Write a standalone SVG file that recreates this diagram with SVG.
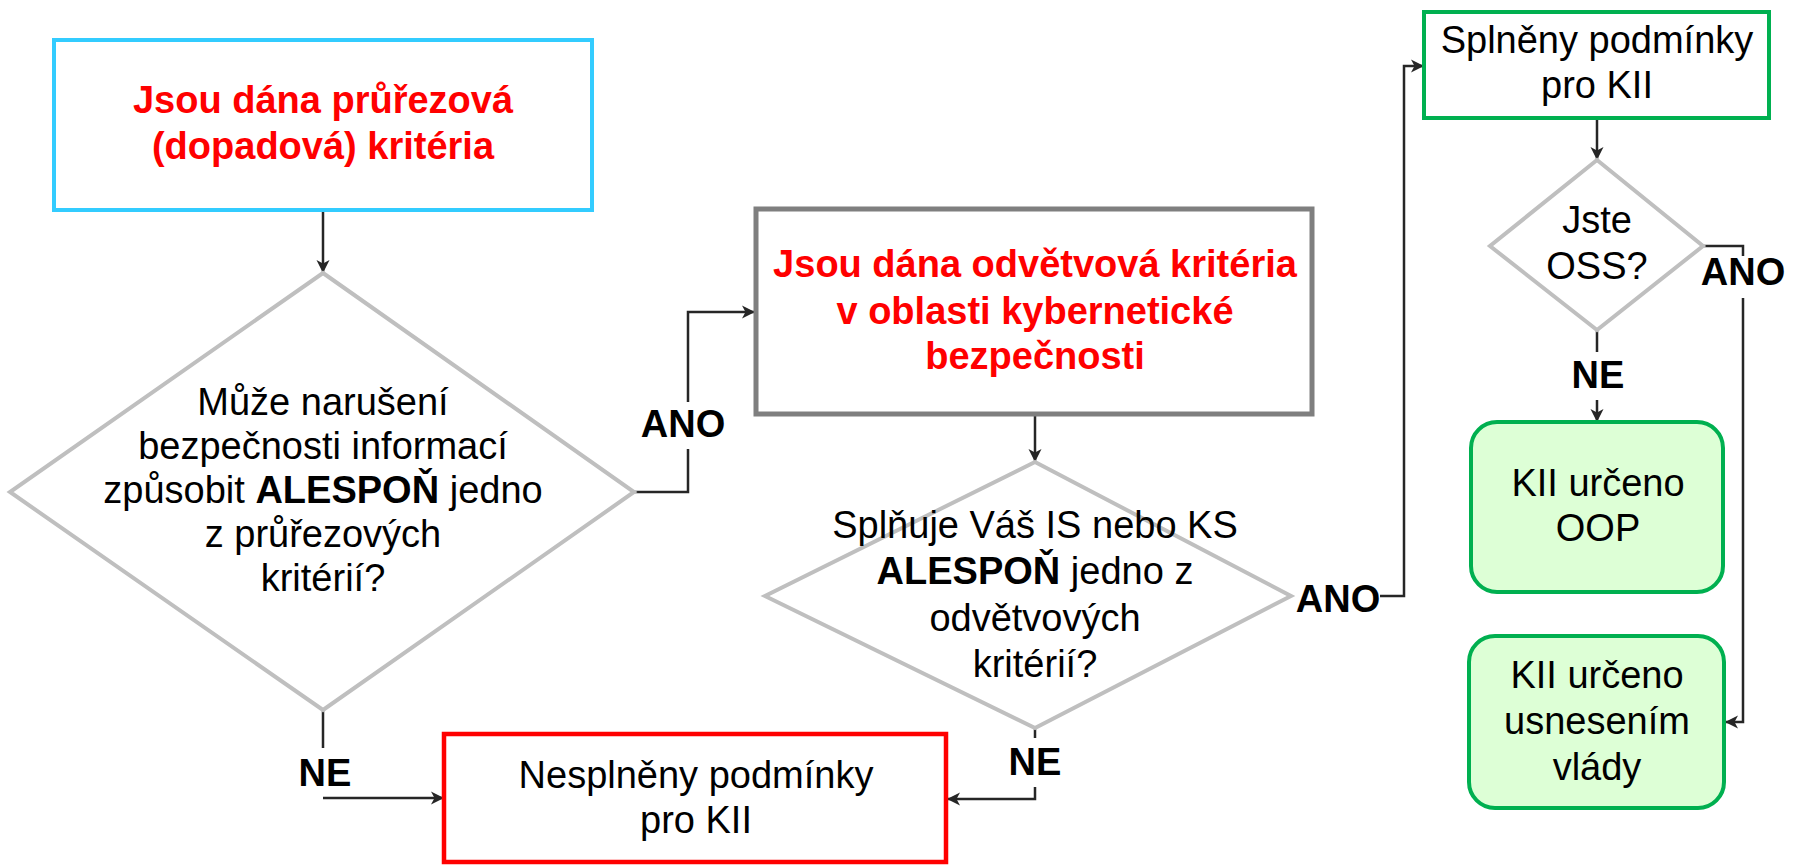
<svg xmlns="http://www.w3.org/2000/svg" width="1796" height="866" viewBox="0 0 1796 866">
<defs>
<style>
.t{font-family:"Liberation Sans",Arial,sans-serif;font-size:38px;fill:#000;text-anchor:middle}
.r{fill:#FF0000;font-weight:bold}
.b{font-weight:bold}
.dia{fill:#fff;stroke:#BFBFBF;stroke-width:4}
.c{fill:none;stroke:#262626;stroke-width:2.5}
.lbl{font-family:"Liberation Sans",Arial,sans-serif;font-size:38px;font-weight:bold;fill:#000;text-anchor:middle}
</style>
<marker id="ah" markerUnits="userSpaceOnUse" markerWidth="14" markerHeight="14" viewBox="0 0 14 14" refX="13" refY="7" orient="auto">
<path d="M0,0.5 L13,7 L0,13.5 L3.5,7 z" fill="#262626"/>
</marker>
</defs>
<rect width="1796" height="866" fill="#fff"/>

<g id="connectors">
<path class="c" d="M323,210 V273" marker-end="url(#ah)"/>
<path class="c" d="M634,492 H688 V449 M688,402 V312 H755" marker-end="url(#ah)"/>
<path class="c" d="M323,710 V748 M323,798 H444" marker-end="url(#ah)"/>
<path class="c" d="M1035,414 V462" marker-end="url(#ah)"/>
<path class="c" d="M1035,728 V738 M1035,787 V799 H947" marker-end="url(#ah)"/>
<path class="c" d="M1380,596 H1404 V66 H1424" marker-end="url(#ah)"/>
<path class="c" d="M1597,118 V160" marker-end="url(#ah)"/>
<path class="c" d="M1703,246 H1743 V256 M1743,298 V722 H1725" marker-end="url(#ah)"/>
<path class="c" d="M1597,330 V352 M1597,400 V422" marker-end="url(#ah)"/>
<text class="lbl" x="683" y="437">ANO</text>
<text class="lbl" x="325" y="786">NE</text>
<text class="lbl" x="1035" y="775">NE</text>
<text class="lbl" x="1338" y="612">ANO</text>
<text class="lbl" x="1743" y="285">ANO</text>
<text class="lbl" x="1598" y="388">NE</text>
</g>

<g id="n-pruřezova">
<rect x="54" y="40" width="538" height="170" fill="#fff" stroke="#33CCFF" stroke-width="4"/>
<text class="t r" x="323" y="113">Jsou dána průřezová</text>
<text class="t r" x="323" y="159">(dopadová) kritéria</text>
</g>

<g id="n-q1">
<polygon class="dia" points="323,273 634,492 323,710 10,492"/>
<text class="t" x="323" y="415">Může narušení</text>
<text class="t" x="323" y="459">bezpečnosti informací</text>
<text class="t" x="323" y="503">způsobit <tspan font-weight="bold">ALESPOŇ</tspan> jedno</text>
<text class="t" x="323" y="547">z průřezových</text>
<text class="t" x="323" y="591">kritérií?</text>
</g>

<g id="n-odvetvova">
<rect x="756" y="209" width="556" height="205" fill="#fff" stroke="#7F7F7F" stroke-width="5"/>
<text class="t r" x="1035" y="277">Jsou dána odvětvová kritéria</text>
<text class="t r" x="1035" y="324">v oblasti kybernetické</text>
<text class="t r" x="1035" y="369">bezpečnosti</text>
</g>

<g id="n-q2">
<polygon class="dia" points="1035,462 1291,596 1035,728 765,596"/>
<text class="t" x="1035" y="538">Splňuje Váš IS nebo KS</text>
<text class="t" x="1035" y="584"><tspan font-weight="bold">ALESPOŇ</tspan> jedno z</text>
<text class="t" x="1035" y="631">odvětvových</text>
<text class="t" x="1035" y="677">kritérií?</text>
</g>

<g id="n-nesplneny">
<rect x="444" y="734" width="502" height="128" fill="#fff" stroke="#FF0000" stroke-width="4.5"/>
<text class="t" x="696" y="788">Nesplněny podmínky</text>
<text class="t" x="696" y="833">pro KII</text>
</g>

<g id="n-splneny">
<rect x="1424" y="12" width="345" height="106" fill="#fff" stroke="#00B050" stroke-width="4"/>
<text class="t" x="1597" y="53">Splněny podmínky</text>
<text class="t" x="1597" y="98">pro KII</text>
</g>

<g id="n-oss">
<polygon class="dia" points="1597,160 1703,246 1597,330 1490,246"/>
<text class="t" x="1597" y="233">Jste</text>
<text class="t" x="1597" y="279">OSS?</text>
</g>

<g id="n-oop">
<rect x="1471" y="422" width="252" height="170" rx="26" fill="#DDFFD6" stroke="#00B050" stroke-width="4"/>
<text class="t" x="1598" y="496">KII určeno</text>
<text class="t" x="1598" y="541">OOP</text>
</g>

<g id="n-vlada">
<rect x="1469" y="636" width="255" height="172" rx="26" fill="#DDFFD6" stroke="#00B050" stroke-width="4"/>
<text class="t" x="1597" y="688">KII určeno</text>
<text class="t" x="1597" y="734">usnesením</text>
<text class="t" x="1597" y="780">vlády</text>
</g>
</svg>
